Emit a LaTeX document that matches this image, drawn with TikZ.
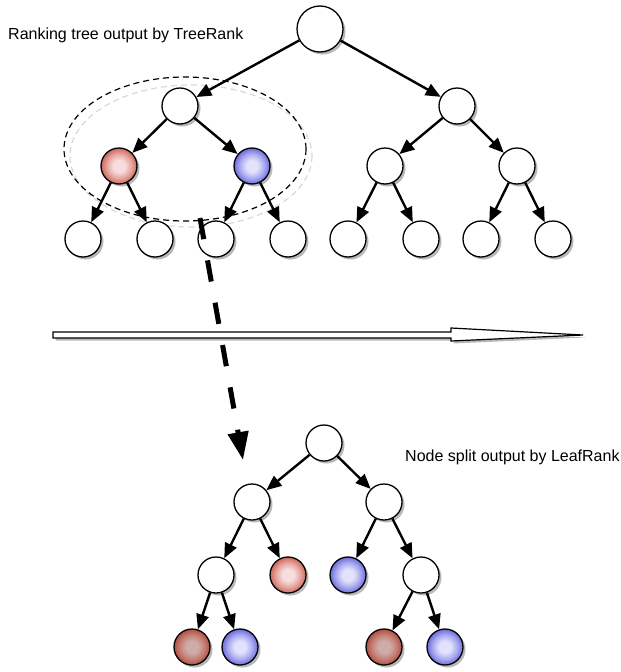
\documentclass[tikz,border=0pt]{standalone}
\usepackage{fontspec}
\setmainfont{Liberation Sans}
\usetikzlibrary{arrows.meta,shadows}

% ball colours
\definecolor{redin}{RGB}{247,222,222}
\definecolor{redmid}{RGB}{230,165,158}
\definecolor{redout}{RGB}{206,104,94}
\definecolor{darkredin}{RGB}{208,172,168}
\definecolor{darkredmid}{RGB}{196,128,118}
\definecolor{darkredout}{RGB}{178,78,64}
\definecolor{bluein}{RGB}{226,226,252}
\definecolor{bluemid}{RGB}{170,170,240}
\definecolor{blueout}{RGB}{108,108,222}

\pgfdeclareradialshading{redball}{\pgfpoint{0bp}{0bp}}{color(0bp)=(redin); color(8bp)=(redin); color(17bp)=(redmid); color(25bp)=(redout); color(50bp)=(redout)}
\pgfdeclareradialshading{darkredball}{\pgfpoint{0bp}{0bp}}{color(0bp)=(darkredin); color(8bp)=(darkredin); color(17bp)=(darkredmid); color(25bp)=(darkredout); color(50bp)=(darkredout)}
\pgfdeclareradialshading{blueball}{\pgfpoint{0bp}{0bp}}{color(0bp)=(bluein); color(8bp)=(bluein); color(17bp)=(bluemid); color(25bp)=(blueout); color(50bp)=(blueout)}

\tikzset{
  softshadow/.style={drop shadow={shadow xshift=2.5pt, shadow yshift=-2.5pt, opacity=0.28, fill=black}},
  ball/.style={circle, draw, line width=1.3pt, minimum size=36pt, inner sep=0pt, fill=white, softshadow},
  bigball/.style={ball, minimum size=46pt},
  rednode/.style={ball, shading=redball},
  darkrednode/.style={ball, shading=darkredball},
  bluenode/.style={ball, shading=blueball},
  edge/.style={line width=2.4pt, -{Triangle[length=15pt,width=12.5pt]}},
  caption/.style={font=\fontsize{16}{19}\selectfont, anchor=west, inner sep=0pt},
  groupring/.style={line width=1.2pt, dash pattern=on 6pt off 4pt},
}

\begin{document}
\begin{tikzpicture}[x=1pt, y=-1pt]
\useasboundingbox (0,0) rectangle (621,672);

% grouping ring around the split node and its children
\draw[groupring, black!15] (191,156) ellipse [x radius=121, y radius=71];
\draw[groupring, black] (185,149) ellipse [x radius=121, y radius=72];

% ranking tree
\node[bigball] (r) at (320,29) {};
\node[ball] (a) at (180,106) {};
\node[ball] (b) at (457,106) {};
\node[rednode] (ar) at (119,166) {};
\node[bluenode] (ab) at (252,166) {};
\node[ball] (bl) at (385,166) {};
\node[ball] (br) at (517,166) {};
\node[ball] (l1) at (83,239) {};
\node[ball] (l2) at (155,239) {};
\node[ball] (l3) at (216,239) {};
\node[ball] (l4) at (288,239) {};
\node[ball] (l5) at (348,239) {};
\node[ball] (l6) at (421,239) {};
\node[ball] (l7) at (481,239) {};
\node[ball] (l8) at (553,239) {};

\foreach \p/\c in {r/a, r/b, a/ar, a/ab, b/bl, b/br, ar/l1, ar/l2, ab/l3, ab/l4, bl/l5, bl/l6, br/l7, br/l8}
  \draw[edge] (\p) -- (\c);

\node[caption] (cap1) at (8,35) {Ranking tree output by TreeRank};

% hollow arrow across the page
\filldraw[fill=white, line width=1.2pt, softshadow]
  (53,332) -- (451,332) -- (451,328) -- (583,335) -- (451,341) -- (451,338) -- (53,338) -- cycle;

% node split tree
\node[ball] (R) at (324,443) {};
\node[ball] (A) at (252,502) {};
\node[ball] (B) at (384,502) {};
\node[ball] (A1) at (216,575) {};
\node[rednode] (A2) at (288,575) {};
\node[bluenode] (B1) at (348,575) {};
\node[ball] (B2) at (421,575) {};
\node[darkrednode] (C1) at (192,647) {};
\node[bluenode] (C2) at (240,647) {};
\node[darkrednode] (C3) at (384,647) {};
\node[bluenode] (C4) at (445,647) {};

\foreach \p/\c in {R/A, R/B, A/A1, A/A2, B/B1, B/B2, A1/C1, A1/C2, B2/C3, B2/C4}
  \draw[edge] (\p) -- (\c);

\node[caption] (cap2) at (405,457) {Node split output by LeafRank};

% dashed zoom arrow from the ranking tree to the node split
\coordinate (zs) at (200,218);
\coordinate (ze) at (243,460);
\draw[line width=5pt, dash pattern=on 21.5pt off 21.5pt, -{Triangle[length=28pt,width=20pt]}] (zs) -- (ze);
\end{tikzpicture}
\end{document}
